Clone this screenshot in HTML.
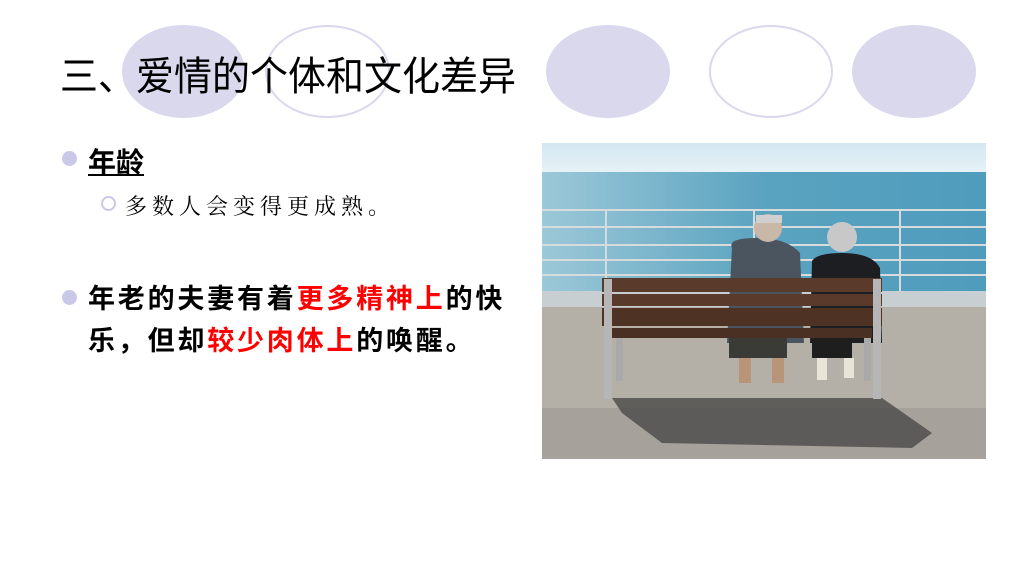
<!DOCTYPE html>
<html><head><meta charset="utf-8"><style>
body{margin:0;width:1024px;height:576px;background:#fff;position:relative;overflow:hidden;font-family:"Liberation Sans","Noto Sans CJK SC",sans-serif}
.abs{position:absolute}
.ell{position:absolute;border-radius:50%;box-sizing:border-box}
.f{background:#d9d8ec}
.o{border:2px solid #d9d8ec}
</style></head><body>
<div class="ell f" style="left:122px;top:25px;width:123px;height:93px"></div>
<div class="ell o" style="left:265px;top:25px;width:125px;height:93px"></div>
<div class="ell f" style="left:546px;top:25px;width:124px;height:93px"></div>
<div class="ell o" style="left:709px;top:25px;width:124px;height:93px"></div>
<div class="ell f" style="left:852px;top:25px;width:124px;height:93px"></div>
<div class="abs" style="left:60px;top:44px;font-size:38px;color:#000;transform:scaleY(1.05);transform-origin:left top">三、爱情的个体和文化差异</div>
<div class="abs" style="left:62px;top:151px;width:15px;height:15px;border-radius:50%;background:#c9c8e8"></div>
<div class="abs" style="left:88px;top:141px;font-size:28px;font-weight:bold;text-decoration:underline">年龄</div>
<div class="abs" style="left:101px;top:196px;width:15px;height:15px;border-radius:50%;border:2px solid #c9c8e8;box-sizing:border-box"></div>
<div class="abs" style="left:125px;top:190px;font-size:22px;letter-spacing:5px;font-family:'Liberation Serif','Noto Serif CJK SC',serif">多数人会变得更成熟。</div>
<div class="abs" style="left:62px;top:290px;width:15px;height:15px;border-radius:50%;background:#c9c8e8"></div>
<div class="abs" style="left:88px;top:278px;font-size:27px;font-weight:bold;letter-spacing:2.8px;line-height:42px;width:440px">年老的夫妻有着<span style="color:#ff0000">更多精神上</span>的快乐，但却<span style="color:#ff0000">较少肉体上</span>的唤醒。</div>
<svg class="abs" style="left:542px;top:143px" width="444" height="316" viewBox="0 0 444 316">
<defs>
<linearGradient id="sky" x1="0" y1="0" x2="0" y2="1"><stop offset="0" stop-color="#d4e8f2"/><stop offset="1" stop-color="#e6f2f6"/></linearGradient>
<linearGradient id="sea" x1="0" y1="0" x2="1" y2="0"><stop offset="0" stop-color="#9cc8d8"/><stop offset="0.5" stop-color="#5aa3c0"/><stop offset="1" stop-color="#4f9cbd"/></linearGradient>
</defs>
<rect width="444" height="30" fill="url(#sky)"/>
<rect y="29" width="444" height="120" fill="url(#sea)"/>
<rect y="148" width="444" height="16" fill="#c7cfd2"/>
<rect y="164" width="444" height="152" fill="#b4afa7"/>
<rect y="265" width="444" height="51" fill="#a6a19a"/>
<g stroke="#d8dbdc" stroke-width="2">
<line x1="0" y1="67" x2="444" y2="67"/><line x1="0" y1="84" x2="444" y2="84"/><line x1="0" y1="102" x2="444" y2="102"/><line x1="0" y1="117" x2="444" y2="117"/><line x1="0" y1="132" x2="444" y2="132"/>
<line x1="64" y1="66" x2="64" y2="148"/><line x1="212" y1="66" x2="212" y2="148"/><line x1="358" y1="66" x2="358" y2="148"/>
</g>
<path d="M70 255 L340 255 L390 290 L370 305 L120 300 L80 270Z" fill="#4a4a48" opacity="0.8"/>
<path d="M190 105 Q185 95 215 95 Q245 95 258 110 L262 200 L185 200Z" fill="#4a5560"/>
<circle cx="226" cy="85" r="14" fill="#c9b8a8"/>
<rect x="214" y="72" width="26" height="8" fill="#d0d0d0"/>
<path d="M270 118 Q275 110 300 110 Q330 110 338 125 L340 200 L268 200Z" fill="#1c1e22"/>
<circle cx="300" cy="94" r="15" fill="#c8c8c8"/>
<rect x="187" y="195" width="58" height="20" fill="#3a3a36"/>
<rect x="270" y="195" width="40" height="20" fill="#1e1e1e"/>
<rect x="60" y="135" width="280" height="14" fill="#5a3a2a"/>
<rect x="60" y="151" width="280" height="12" fill="#5a3a2a"/>
<rect x="60" y="165" width="280" height="18" fill="#4e3224"/>
<rect x="70" y="185" width="260" height="10" fill="#4a3022"/>
<rect x="62" y="136" width="8" height="120" fill="#b6b6b6"/>
<rect x="331" y="136" width="8" height="120" fill="#b6b6b6"/>
<rect x="74" y="195" width="7" height="43" fill="#a9a9a9"/>
<rect x="322" y="195" width="7" height="43" fill="#a9a9a9"/>
<rect x="197" y="215" width="12" height="25" fill="#b89478"/><rect x="230" y="215" width="12" height="25" fill="#b89478"/>
<rect x="275" y="215" width="10" height="22" fill="#e8e4d8"/><rect x="302" y="215" width="10" height="20" fill="#e8e4d8"/>
</svg>
</body></html>
